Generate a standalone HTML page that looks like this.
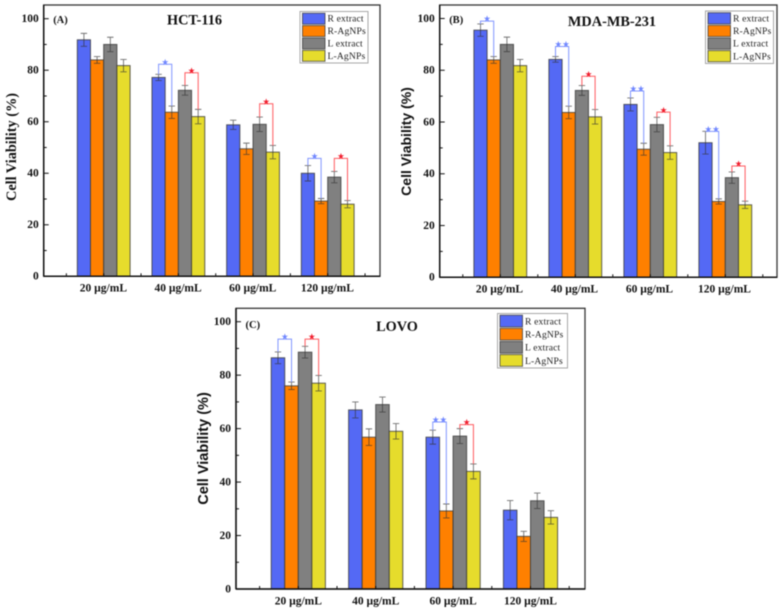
<!DOCTYPE html>
<html lang="en">
<head>
<meta charset="utf-8">
<title>Cell viability bar charts</title>
<style>
html,body{margin:0;padding:0;background:#fff;}
#figure{display:block;width:784px;height:612px;filter:blur(0.4px);}
text{font-family:"Liberation Serif",serif;fill:#111;}
</style>
</head>
<body>
<svg id="figure" xmlns="http://www.w3.org/2000/svg" width="784" height="612" viewBox="0 0 784 612"></svg>
<script>
const categories = ['20 µg/mL', '40 µg/mL', '60 µg/mL', '120 µg/mL'];
const seriesNames = ['R extract', 'R-AgNPs', 'L extract', 'L-AgNPs'];
const yTicks = [0, 20, 40, 60, 80, 100];
const yMinorTicks = [10, 30, 50, 70, 90];

const hctValues = [
  [91.8, 77.2, 58.8, 40.0],
  [84.0, 63.7, 49.5, 29.2],
  [90.0, 72.2, 59.0, 38.5],
  [81.8, 62.0, 48.2, 28.0]
];
const hctErrors = [
  [2.5, 1.2, 1.8, 3.0],
  [1.3, 2.4, 2.2, 1.0],
  [2.8, 1.9, 2.8, 2.2],
  [2.4, 2.8, 2.6, 1.4]
];
const hctBrackets = [
  [1, 0, 1, 82.3, '★'],
  [1, 2, 3, 79.0, '★'],
  [2, 2, 3, 67.0, '★'],
  [3, 0, 1, 45.8, '★'],
  [3, 2, 3, 45.8, '★']
];

const mdaValues = [
  [95.5, 84.2, 66.8, 52.0],
  [84.0, 63.7, 49.5, 29.3],
  [90.0, 72.2, 59.0, 38.5],
  [81.8, 62.0, 48.2, 28.0]
];
const mdaErrors = [
  [2.4, 1.1, 2.5, 4.4],
  [1.3, 2.4, 2.3, 1.0],
  [2.8, 1.9, 2.8, 2.2],
  [2.4, 2.8, 2.6, 1.4]
];
const mdaBrackets = [
  [0, 0, 1, 99.0, '★'],
  [1, 0, 1, 89.2, '★★'],
  [1, 2, 3, 77.7, '★'],
  [2, 0, 1, 72.0, '★★'],
  [2, 2, 3, 63.8, '★'],
  [3, 0, 1, 56.4, '★★'],
  [3, 2, 3, 43.0, '★']
];

const lovoValues = [
  [86.5, 67.0, 56.8, 29.5],
  [76.0, 56.8, 29.2, 19.7],
  [88.6, 69.0, 57.2, 33.0],
  [77.0, 59.0, 44.0, 26.8]
];
const lovoErrors = [
  [2.2, 3.0, 2.6, 3.6],
  [1.4, 3.1, 2.6, 1.9],
  [2.2, 2.8, 2.8, 2.9],
  [2.9, 2.9, 2.8, 2.5]
];
const lovoBrackets = [
  [0, 0, 1, 93.5, '★'],
  [0, 2, 3, 93.5, '★'],
  [2, 0, 1, 62.5, '★★'],
  [2, 2, 3, 61.5, '★']
];

const fills = ['#5469f5', '#ff8000', '#808080', '#e6dc2c'];
const svg = document.getElementById('figure');
const NS = 'http://www.w3.org/2000/svg';

function make(parent, tag, attrs, content) {
  const node = document.createElementNS(NS, tag);
  for (const key in attrs) node.setAttribute(key, attrs[key]);
  if (content !== undefined) node.textContent = content;
  parent.appendChild(node);
  return node;
}

function drawPanel(p) {
  const g = make(svg, 'g', {});
  
  

  const yScale = v => p.y0 + (p.y100 - p.y0) * v / 100;
  const groupX = i => p.first + p.step * i;
  const barX = (i, s) => groupX(i) + (s - 2) * p.barW;
  const barCenter = (i, s) => barX(i, s) + p.barW / 2;

  // bars and error bars
  p.values.forEach((series, s) => {
    series.forEach((value, i) => {
      const bar = make(g, 'rect', {
        x: barX(i, s), y: yScale(value), width: p.barW, height: p.y0 - yScale(value),
        fill: fills[s], stroke: '#3a3a3a', 'stroke-opacity': 0.8, 'stroke-width': 1
      });
      
      
    });
  });
  p.values.forEach((series, s) => {
    series.forEach((value, i) => {
      const err = p.errors[s][i];
      const cx = barCenter(i, s);
      const top = yScale(value + err);
      const low = yScale(value - err);
      const path = 'M' + cx + ' ' + top + 'V' + low +
        'M' + (cx - 3.2) + ' ' + top + 'H' + (cx + 3.2) +
        'M' + (cx - 3.2) + ' ' + low + 'H' + (cx + 3.2);
      const whisker = make(g, 'path', { d: path, fill: 'none', stroke: '#333', 'stroke-opacity': 0.7, 'stroke-width': 0.9 });
      
      
    });
  });

  // significance brackets
  p.brackets.forEach((b, n) => {
    const group = b[0], from = b[1], to = b[2], top = b[3], stars = b[4];
    const color = from === 0 ? '#8095ff' : '#ff5a5f';
    const starColor = from === 0 ? '#6f86ff' : '#f01c2c';
    const x1 = barCenter(group, from), x2 = barCenter(group, to);
    const y1 = yScale(p.values[from][group] + p.errors[from][group]);
    const y2 = yScale(p.values[to][group] + p.errors[to][group]);
    const line = make(g, 'path', {
      d: 'M' + x1 + ' ' + y1 + 'V' + yScale(top) + 'H' + x2 + 'V' + y2,
      fill: 'none', stroke: color, 'stroke-width': 1
    });
    
    
    const mark = make(g, 'text', {
      x: (x1 + x2) / 2, y: yScale(top) + 0.6, 'text-anchor': 'middle', 'font-size': 8.5,
      style: 'font-family:"DejaVu Sans",sans-serif;fill:' + starColor
    }, stars);
    
    
  });

  // frame
  const frame = make(g, 'rect', {
    x: p.left, y: p.top, width: p.right - p.left, height: p.y0 - p.top,
    fill: 'none', stroke: '#333', 'stroke-width': 1.3
  });
  
  
  const xAxis = make(g, 'line', { x1: p.left, x2: p.right, y1: p.y0, y2: p.y0, stroke: '#111', 'stroke-width': 1.5 });
  
  
  const yAxis = make(g, 'line', { x1: p.left, x2: p.left, y1: p.top, y2: p.y0, stroke: '#111', 'stroke-width': 1.5 });
  
  

  // y ticks
  yTicks.forEach(t => {
    const tick = make(g, 'line', { x1: p.left, x2: p.left + 5, y1: yScale(t), y2: yScale(t), stroke: '#111', 'stroke-width': 1 });
    
    
    const label = make(g, 'text', {
      x: p.left - 5, y: yScale(t) + 3.4, 'text-anchor': 'end', 'font-size': 11.5, 'font-weight': 'bold'
    }, String(t));
    
    
  });
  yMinorTicks.forEach(t => {
    const tick = make(g, 'line', { x1: p.left, x2: p.left + 3, y1: yScale(t), y2: yScale(t), stroke: '#111', 'stroke-width': 1 });
    
    
  });

  // x ticks and labels
  categories.forEach((c, i) => {
    const tick = make(g, 'line', { x1: groupX(i), x2: groupX(i), y1: p.y0, y2: p.y0 - 3, stroke: '#111', 'stroke-width': 1 });
    
    
    const label = make(g, 'text', {
      x: groupX(i) + p.labelShift, y: p.y0 + 15.3, 'text-anchor': 'middle', 'font-size': 11.5, 'font-weight': 'bold'
    }, c);
    
    
  });
  for (let i = 0; i <= categories.length; i++) {
    const x = groupX(i) - p.step / 2;
    const tick = make(g, 'line', { x1: x, x2: x, y1: p.y0, y2: p.y0 - 3, stroke: '#111', 'stroke-width': 1 });
    
    
  }

  // titles
  const yTitle = make(g, 'text', {
    transform: 'translate(' + p.yTitleX + ' ' + p.yTitleY + ') rotate(-90)',
    'text-anchor': 'middle', 'font-size': p.yTitleSize, 'font-weight': 'bold',
    style: 'font-family:' + p.yTitleFont
  }, 'Cell Viability (%)');
  
  
  const title = make(g, 'text', {
    x: p.titleX, y: p.titleY, 'text-anchor': 'middle', 'font-size': 14.3, 'font-weight': 'bold'
  }, p.title);
  
  
  const letter = make(g, 'text', {
    x: p.left + 9.5, y: p.letterY, 'font-size': 10.5, 'font-weight': 'bold'
  }, p.letter);
  
  

  // legend
  const legend = make(g, 'g', {});
  
  
  const box = make(legend, 'rect', {
    x: p.legendX, y: p.legendY, width: p.legendW, height: p.legendH,
    fill: '#fff', stroke: '#a8a8a8', 'stroke-width': 1
  });
  
  
  const rowH = (p.legendH - 2) / seriesNames.length;
  seriesNames.forEach((name, s) => {
    const ry = p.legendY + 1 + rowH * s;
    const swatch = make(legend, 'rect', {
      x: p.legendX + 2.5, y: ry + 0.7, width: 22.5, height: rowH - 1.4,
      fill: fills[s], stroke: '#3a3a3a', 'stroke-opacity': 0.75, 'stroke-width': 1
    });
    
    
    const label = make(legend, 'text', {
      x: p.legendX + 27.5, y: ry + rowH - 3.2, 'font-size': 9.6, style: 'letter-spacing:.15px;fill:#222'
    }, name);
    
    
  });
}

drawPanel({
  id: 'hct-116', title: 'HCT-116', letter: '(A)',
  values: hctValues, errors: hctErrors, brackets: hctBrackets,
  left: 43.7, right: 380, top: 5, y0: 276.3, y100: 18.7,
  first: 103.7, step: 74.67, barW: 13.2, labelShift: -0.3,
  yTitleX: 16, yTitleY: 147, yTitleSize: 14.3, yTitleFont: '"Liberation Serif",serif',
  titleX: 194.5, titleY: 24.5, letterY: 23,
  legendX: 300, legendY: 11.5, legendW: 68, legendH: 51.5
});
drawPanel({
  id: 'mda-mb-231', title: 'MDA-MB-231', letter: '(B)',
  values: mdaValues, errors: mdaErrors, brackets: mdaBrackets,
  left: 439.7, right: 777, top: 5, y0: 277.3, y100: 18.5,
  first: 500.3, step: 75, barW: 13.2, labelShift: -0.8,
  yTitleX: 411, yTitleY: 141.5, yTitleSize: 14, yTitleFont: '"Liberation Sans",sans-serif',
  titleX: 612, titleY: 26, letterY: 23,
  legendX: 705.5, legendY: 11, legendW: 68, legendH: 52.5
});
drawPanel({
  id: 'lovo', title: 'LOVO', letter: '(C)',
  values: lovoValues, errors: lovoErrors, brackets: lovoBrackets,
  left: 236, right: 585, top: 308.3, y0: 589, y100: 321.7,
  first: 298.3, step: 77.4, barW: 13.55, labelShift: 0,
  yTitleX: 208, yTitleY: 448.5, yTitleSize: 14.5, yTitleFont: '"Liberation Sans",sans-serif',
  titleX: 397, titleY: 331, letterY: 328,
  legendX: 497.5, legendY: 313.5, legendW: 70, legendH: 54.5
});
</script>
</body>
</html>
